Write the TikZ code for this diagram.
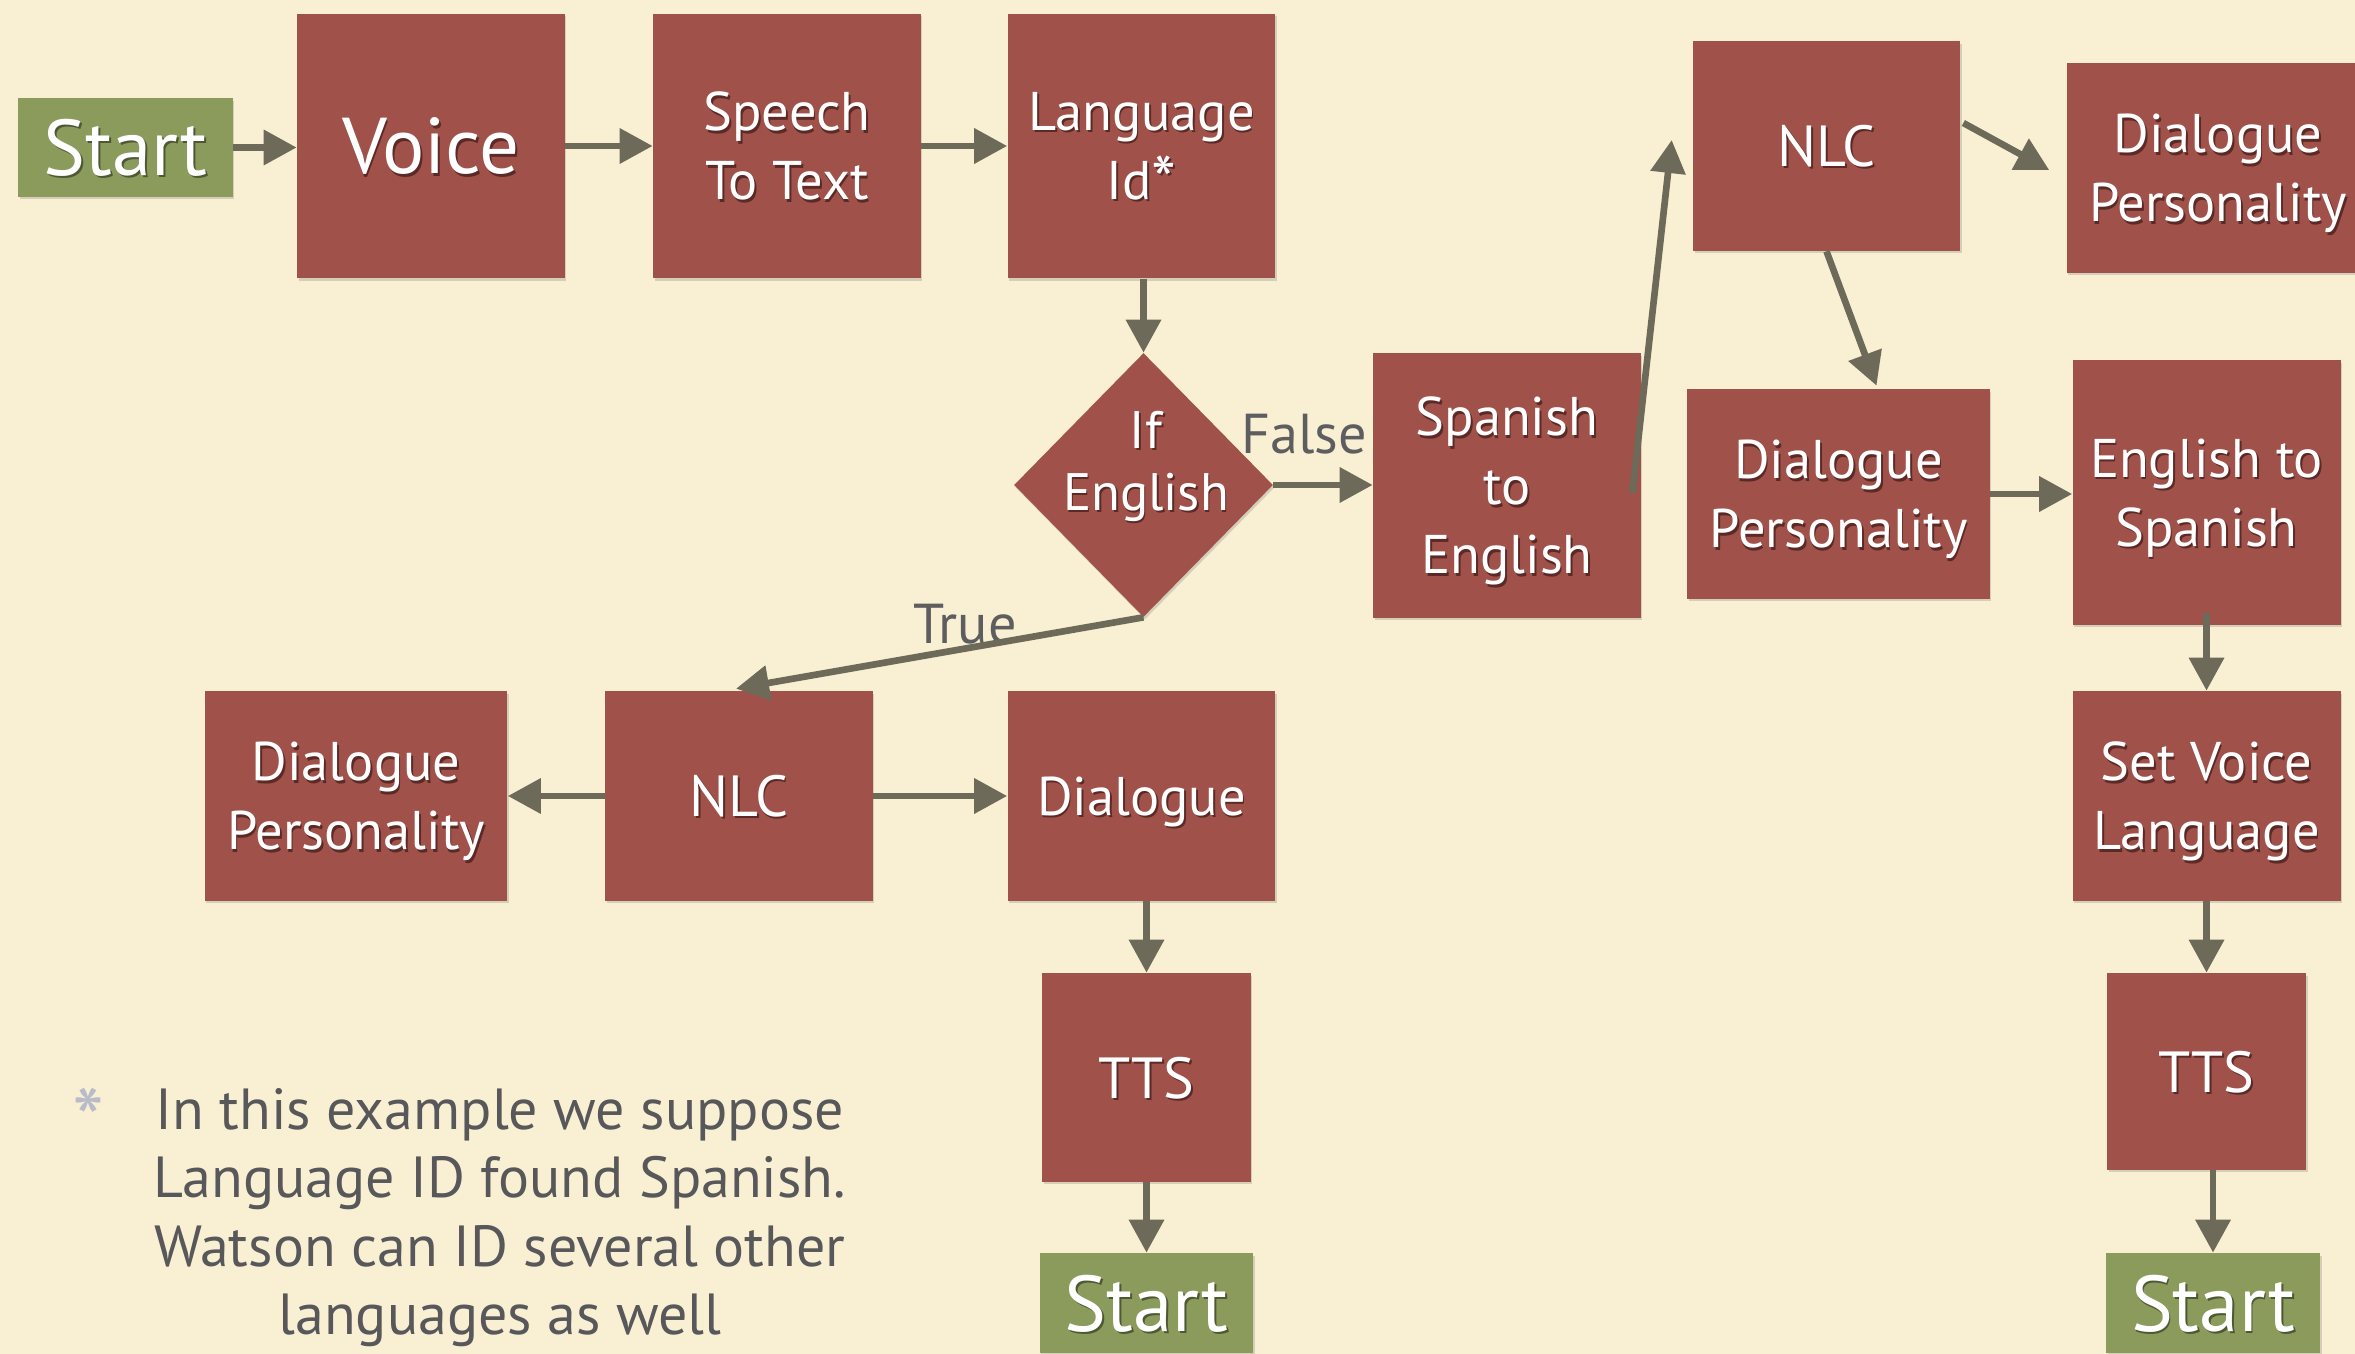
\documentclass[tikz,border=0pt]{standalone}
\usepackage{fontspec}
\setmainfont{PT Sans}
\usetikzlibrary{arrows.meta,shapes.geometric,calc,shadows}
\definecolor{paper}{RGB}{249,240,212}
\definecolor{boxred}{RGB}{160,82,74}
\definecolor{gogreen}{RGB}{138,155,92}
\definecolor{linkc}{RGB}{110,106,90}
\definecolor{labelc}{RGB}{94,94,96}
\definecolor{notec}{RGB}{88,88,90}
\definecolor{starc}{RGB}{184,188,200}
\definecolor{redshade}{RGB}{92,42,38}
\definecolor{greenshade}{RGB}{78,88,50}
% white lettering with a small offset shade behind it
\newcommand\shtxt[2][redshade]{\makebox[0pt][l]{\hspace{0.035cm}\raisebox{-0.045cm}{\textcolor{#1}{#2}}}#2}
\begin{document}
\begin{tikzpicture}[x=0.02cm,y=-0.02cm,
  basebox/.style={rectangle, inner sep=0pt, text=white, align=center, text depth=0pt,
    drop shadow={shadow xshift=0.03cm, shadow yshift=-0.05cm, opacity=0.3}},
  stepbox/.style={basebox, fill=boxred, font=\fontsize{31}{39.3}\selectfont},
  gobox/.style={basebox, fill=gogreen, font=\fontsize{45}{50}\selectfont,
    minimum width=4.30cm, minimum height=1.98cm},
  sq/.style={minimum width=5.36cm, minimum height=5.30cm},
  mid/.style={minimum width=5.36cm, minimum height=4.20cm},
  wide/.style={minimum width=6.06cm, minimum height=4.20cm},
  bigtxt/.style={font=\fontsize{33}{40}\selectfont},
  link/.style={draw=linkc, line width=3.8pt, -{Triangle[length=0.66cm,width=0.68cm]}},
  lbl/.style={text=labelc, font=\fontsize{32}{38}\selectfont, inner sep=0pt},
]
\useasboundingbox (0,0) rectangle (2355,1354);
\fill[paper] (0,0) rectangle (2355,1354);
\clip (0,0) rectangle (2355,1354);

% top row
\node[gobox] (start1) at (125.5,147.5) {\shtxt[greenshade]{Start}};
\node[stepbox, sq, font=\fontsize{45}{50}\selectfont] (voice) at (431,146) {\shtxt{Voice}};
\node[stepbox, sq] (stt) at (787,146) {\shtxt{Speech}\\\shtxt{To Text}};
\node[stepbox, sq] (lid) at (1141.5,146) {\shtxt{Language}\\\shtxt{Id\raisebox{-0.12em}{\scalebox{1.3}{*}}}};

% decision
\node[diamond, fill=boxred, inner sep=0pt, minimum width=5.18cm, minimum height=5.28cm,
  drop shadow={shadow xshift=0.03cm, shadow yshift=-0.05cm, opacity=0.3}] (dia) at (1143.5,485) {};
\node[text=white, align=center, text depth=0pt, inner sep=0pt,
  font=\fontsize{30}{35.2}\selectfont] (diatxt) at (1146,461) {\shtxt{If}\\\shtxt{English}};

% translation branch
\node[stepbox, sq] (s2e) at (1507,485.5) {\shtxt{Spanish}\\\shtxt{to}\\\shtxt{English}};
\node[stepbox, mid, bigtxt, minimum width=5.34cm] (nlc1) at (1826.5,146) {\shtxt{NLC}};
\node[stepbox, wide] (dp1) at (2218,168) {\shtxt{Dialogue}\\\shtxt{Personality}};
\node[stepbox, wide] (dp2) at (1838.5,494) {\shtxt{Dialogue}\\\shtxt{Personality}};
\node[stepbox, sq] (e2s) at (2206.5,492.5) {\shtxt{English to}\\\shtxt{Spanish}};
\node[stepbox, mid] (svl) at (2206.5,796) {\shtxt{Set Voice}\\\shtxt{Language}};
\node[stepbox, bigtxt, minimum width=3.98cm, minimum height=3.94cm] (tts2) at (2206.5,1071.5) {\shtxt{TTS}};
\node[gobox, minimum width=4.28cm, minimum height=2.0cm] (start3) at (2213,1303) {\shtxt[greenshade]{Start}};

% direct branch
\node[stepbox, mid, bigtxt] (nlc2) at (739,796) {\shtxt{NLC}};
\node[stepbox, wide] (dp3) at (356,796) {\shtxt{Dialogue}\\\shtxt{Personality}};
\node[stepbox, mid] (dlg) at (1141.5,796) {\shtxt{Dialogue}};
\node[stepbox, bigtxt, minimum width=4.18cm, minimum height=4.18cm] (tts1) at (1146.5,1077.5) {\shtxt{TTS}};
\node[gobox, minimum width=4.28cm, minimum height=2.0cm] (start2) at (1146.5,1303) {\shtxt[greenshade]{Start}};

% branch labels
\node[lbl, anchor=base] (lfalse) at (1304,454) {False};
\node[lbl, anchor=base] (ltrue) at (965,643) {True};

% connectors
\draw[link] (start1.east) -- (start1.east -| voice.west);
\draw[link] (voice.east) -- (stt.west);
\draw[link] (stt.east) -- (lid.west);
\draw[link] (dia.north |- lid.south) -- (dia.north);
\draw[link] (dia.east) -- (dia.east -| s2e.west);
\draw[link] (dia.south) -- ($(nlc2.north)+(-3,-2)$);
\draw[link] ($(s2e.east)+(-9,7.5)$) -- ($(nlc1.west)+(-21,-6)$);
\draw[link] ($(nlc1.east)+(3,-23)$) -- ($(dp1.west)+(-17,2)$);
\draw[link] (nlc1.south) -- ($(dp2.north)+(38,-3)$);
\draw[link] (dp2.east) -- (dp2.east -| e2s.west);
\draw[link] ($(e2s.south)+(0,-12)$) -- (svl.north);
\draw[link] (svl.south) -- (tts2.north);
\draw[link] (start3.north |- tts2.south) -- (start3.north);
\draw[link] (nlc2.west) -- (dp3.east);
\draw[link] (nlc2.east) -- (dlg.west);
\draw[link] (tts1.north |- dlg.south) -- (tts1.north);
\draw[link] (tts1.south) -- (start2.north);

% footnote
\node[text=starc, anchor=north, inner sep=0pt, font=\fontsize{52}{52}\selectfont] (star) at (89,1088) {*};
\node[text=notec, align=center, anchor=north, inner sep=0pt,
  font=\fontsize{33}{39}\selectfont] (note) at (500,1088)
  {In this example we suppose\\Language ID found Spanish.\\Watson can ID several other\\languages as well};
\end{tikzpicture}
\end{document}
